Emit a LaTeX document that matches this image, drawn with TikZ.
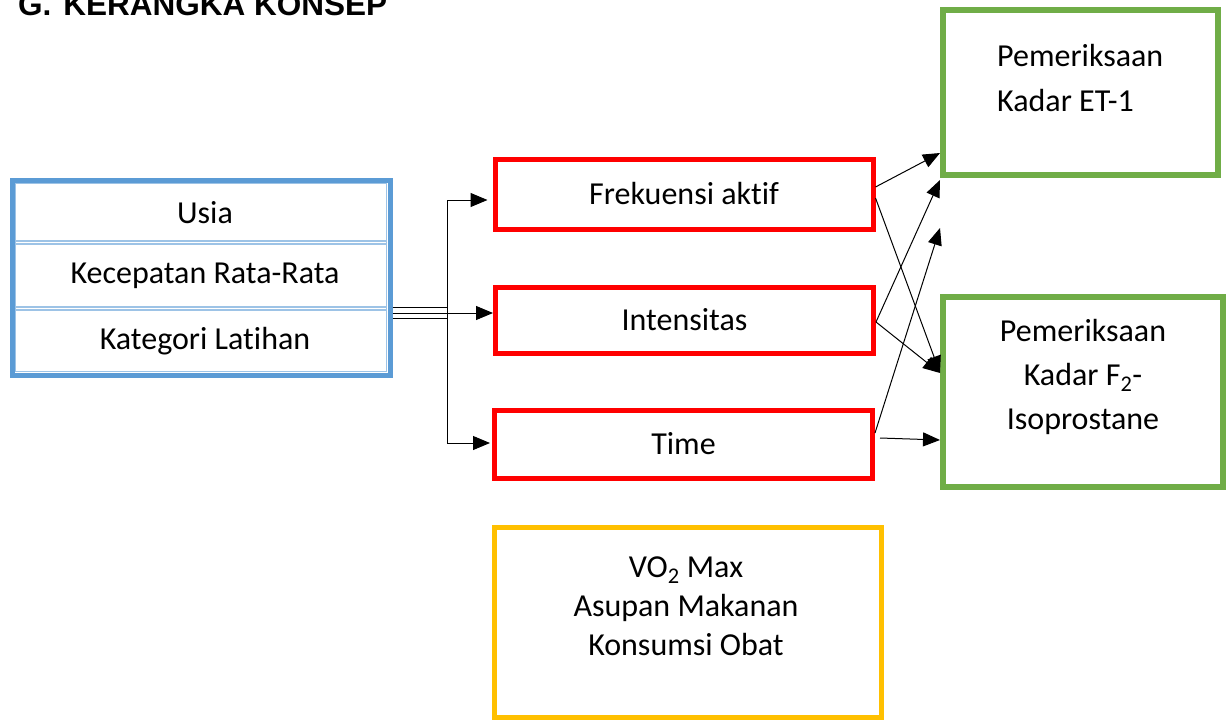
\documentclass[tikz,border=0pt]{standalone}
\usepackage{fontspec}
\setmainfont{Carlito}[Ligatures={NoCommon}]
\newfontfamily\titlefont{Liberation Sans}
\usetikzlibrary{arrows.meta}
\definecolor{bluebox}{RGB}{91,155,213}
\definecolor{bluelight}{RGB}{157,195,230}
\definecolor{greenbox}{RGB}{112,173,71}
\definecolor{yellowbox}{RGB}{255,192,0}
\begin{document}
\begin{tikzpicture}[x=1pt,y=-1pt,
  txt/.style={font=\fontsize{32}{38}\selectfont, inner sep=0pt},
  redbox/.style={draw=red, line width=5pt, minimum width=378pt, txt},
  greenbx/.style={draw=greenbox, line width=6pt},
  conn/.style={line width=1pt},
  arr/.style={line width=1pt, -{Triangle[length=17pt,width=14pt]}}]
\useasboundingbox (0,0) rectangle (1229,720);
% title
\node[anchor=base west, inner sep=0pt, font=\titlefont\bfseries\fontsize{31.5}{36}\selectfont] (title) at (18,16) {G.\hspace{12pt}KERANGKA KONSEP};
% blue table
\node[draw=bluebox, line width=5pt, minimum width=378pt, minimum height=195pt, inner sep=0pt] (fac) at (201,277.5) {};
\draw[bluelight, line width=1.2pt] (15.5,183.5) rectangle (386.5,371.5);
\draw[bluelight, line width=1.2pt] (15,241) -- (387,241) (15,244) -- (387,244);
\draw[bluelight, line width=1.2pt] (15,307) -- (387,307) (15,310) -- (387,310);
\node[txt] (usia) at (205,213) {Usia};
\node[txt] (kec) at (205,276) {Kecepatan Rata-Rata};
\node[txt] (kat) at (205,341) {Kategori Latihan};
% red boxes
\node[redbox, minimum height=70pt] (fre) at (684,194) {Frekuensi aktif};
\node[redbox, minimum height=66pt] (int) at (684.5,320) {Intensitas};
\node[redbox, minimum height=68pt] (tim) at (683.5,444) {Time};
% green boxes
\node[greenbx, minimum width=275pt, minimum height=165pt] (et) at (1080.5,92.5) {};
\node[txt, align=left, anchor=west, font=\fontsize{32}{45}\selectfont] (ettxt) at (997,78) {Pemeriksaan\\Kadar ET-1};
\node[greenbx, minimum width=280pt, minimum height=190pt] (f2) at (1083,392) {};
\node[txt, align=center, font=\fontsize{32}{44}\selectfont] (f2txt) at (1083,377) {Pemeriksaan\\Kadar F\textsubscript{2}-\\Isoprostane};
% yellow box
\node[draw=yellowbox, line width=5pt, minimum width=387pt, minimum height=190pt] (yel) at (687.5,622) {};
\node[txt, align=center, font=\fontsize{32}{39}\selectfont] (yeltxt) at (686,606) {VO\textsubscript{2} Max\\Asupan Makanan\\Konsumsi Obat};
% split connector
\coordinate (j1) at (447,307);
\coordinate (j2) at (447,313);
\coordinate (j3) at (447,318);
\coordinate (jt) at (447,200);
\coordinate (jb) at (447,443);
\draw[conn] (fac.east |- j1) -- (j1);
\draw[conn] (fac.east |- j3) -- (j3);
\draw[conn] (jt) -- (jb);
\draw[arr] (fac.east |- j2) -- (int.west |- j2);
\draw[arr] (jt) -- ([xshift=-5pt]fre.west |- jt);
\draw[arr] (jb) -- ([xshift=-2pt]tim.west |- jb);
% crossing arrows
\coordinate (s1) at (875,187);
\coordinate (s2) at (875,198);
\coordinate (s3) at (872,322);
\coordinate (s4) at (874,433);
\coordinate (s5) at (880,438);
\coordinate (e1) at (940,153);
\coordinate (e2) at (940,180);
\coordinate (e3) at (940,228);
\coordinate (e4) at (940,373);
\coordinate (e5) at (940,440);
\draw[arr] (fre.east |- s1) -- (et.west |- e1);
\draw[arr] (fre.east |- s2) -- (f2.west |- e4);
\draw[arr] (int.east |- s3) -- (e2);
\draw[arr] (int.east |- s3) -- (f2.west |- e4);
\draw[arr] (tim.east |- s4) -- (e3);
\draw[arr] (s5) -- (f2.west |- e5);
\end{tikzpicture}
\end{document}
